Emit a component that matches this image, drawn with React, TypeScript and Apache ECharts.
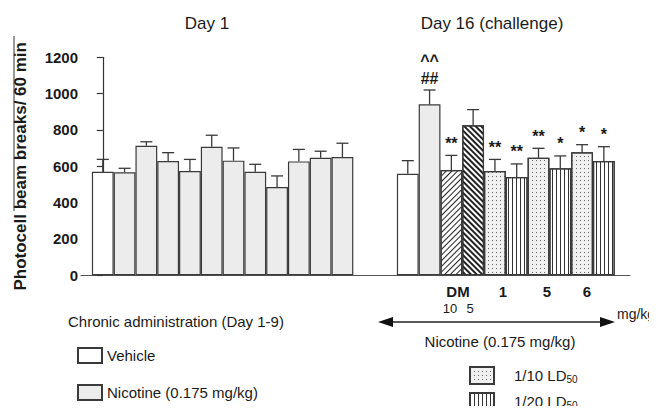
import React, { useEffect, useRef } from "react";
import * as echarts from "echarts";

// ---- data ----
const day1Groups = ["Vehicle", "Nicotine (0.175 mg/kg)", "Nicotine (0.175 mg/kg)", "Nicotine (0.175 mg/kg)", "Nicotine (0.175 mg/kg)", "Nicotine (0.175 mg/kg)", "Nicotine (0.175 mg/kg)", "Nicotine (0.175 mg/kg)", "Nicotine (0.175 mg/kg)", "Nicotine (0.175 mg/kg)", "Nicotine (0.175 mg/kg)", "Nicotine (0.175 mg/kg)"];
const day1Values = [570, 567, 713, 629, 574, 708, 631, 570, 486, 627, 647, 651];
const day1Errors = [68, 22, 22, 46, 64, 63, 70, 41, 61, 66, 36, 76];

const day16Groups = ["Vehicle", "Nicotine (0.175 mg/kg)", "DM 10", "DM 5", "1/10 LD50", "1/20 LD50", "1/10 LD50", "1/20 LD50", "1/10 LD50", "1/20 LD50"];
const day16Values = [559, 941, 580, 826, 574, 541, 647, 589, 677, 629];
const day16Errors = [72, 79, 80, 86, 64, 72, 52, 68, 42, 79];
const day16Marks = ["", "^^\n##", "**", "", "**", "**", "**", "*", "*", "*"];

const yTicks = { min: 0, max: 1200, interval: 200 };
const dayTitles = ["Day 1", "Day 16 (challenge)"];
const compoundLabels = ["DM", "1", "5", "6"];
const doseLabels = ["10", "5"];

const FONT = "'Liberation Sans', Arial, Helvetica, sans-serif";
const INK = "#1a1a1a";
const EDGE = "#3a3a3a";
const GAP_SLOTS = 2;

export default function App() {
  const ref = useRef<HTMLDivElement>(null);

  useEffect(() => {
    if (!ref.current) return;
    const chart = echarts.init(ref.current, undefined, { renderer: "svg" });

    type Pt = { x: number; y: number; e: number; g: string; m: string };
    const pts: Pt[] = [];
    day1Values.forEach((v, i) => pts.push({ x: i, y: v, e: day1Errors[i], g: day1Groups[i], m: "" }));
    day16Values.forEach((v, i) =>
      pts.push({ x: day1Values.length + GAP_SLOTS + i, y: v, e: day16Errors[i], g: day16Groups[i], m: day16Marks[i] })
    );

    const gridLeft = 81;
    const gridRight = 27;
    const xMin = -1;
    const xMax = 24.2;
    const slotPx = (657 - gridLeft - gridRight) / (xMax - xMin);

    const styles: Record<string, any> = {
      Vehicle: { color: "#ffffff" },
      "Nicotine (0.175 mg/kg)": { color: "#ececec" },
      "DM 10": {
        color: "#ffffff",
        decal: { symbol: "rect", symbolSize: 1, color: "#222", backgroundColor: "#fff", dashArrayX: [1, 0], dashArrayY: [1, 2.2], rotation: -Math.PI / 4 },
      },
      "DM 5": {
        color: "#ffffff",
        decal: { symbol: "rect", symbolSize: 1, color: "#222", backgroundColor: "#fff", dashArrayX: [1, 0], dashArrayY: [1.3, 1.8], rotation: Math.PI / 4 },
      },
      "1/10 LD50": {
        color: "#f0f0f0",
        decal: { symbol: "rect", symbolSize: 1, color: "#666", backgroundColor: "#f0f0f0", dashArrayX: [1, 3], dashArrayY: [1, 3], rotation: 0 },
      },
      "1/20 LD50": {
        color: "#ffffff",
        decal: { symbol: "rect", symbolSize: 1, color: "#333", backgroundColor: "#fff", dashArrayX: [1, 2.6], dashArrayY: [4, 0], rotation: 0 },
      },
    };

    const barSeries = Object.keys(styles).map((name) => ({
      type: "bar",
      name,
      barWidth: slotPx,
      barGap: "-100%",
      z: 2,
      data: pts.filter((p) => p.g === name).map((p) => [p.x, p.y]),
      itemStyle: { borderColor: EDGE, borderWidth: 1.2, ...styles[name] },
    }));

    const errorSeries = {
      type: "custom",
      name: "err",
      z: 3,
      data: pts.map((p) => [p.x, p.y, p.e]),
      renderItem: (_p: any, api: any) => {
        const x = api.value(0), y = api.value(1), e = api.value(2);
        const base = api.coord([x, y]);
        const top = api.coord([x, y + e]);
        const st = { stroke: EDGE, lineWidth: 1.3 };
        return {
          type: "group",
          children: [
            { type: "line", shape: { x1: base[0], y1: base[1], x2: base[0], y2: top[1] }, style: st },
            { type: "line", shape: { x1: base[0] - 6, y1: top[1], x2: base[0] + 6, y2: top[1] }, style: st },
          ],
        };
      },
    };

    const markPts = pts.filter((p) => p.m);
    const markSeries = {
      type: "custom",
      name: "marks",
      z: 4,
      data: markPts.map((p) => [p.x, p.y + p.e]),
      renderItem: (params: any, api: any) => {
        const c = api.coord([api.value(0), api.value(1)]);
        const txt = markPts[params.dataIndex].m;
        return {
          type: "text",
          x: c[0],
          y: c[1] - 3,
          style: { text: txt, align: "center", verticalAlign: "bottom", font: `bold 16px ${FONT}`, lineHeight: 18, fill: INK },
        };
      },
    };

    const txt = (text: string, x: number, y: number, size: number, bold = false, align = "center") => ({
      type: "text",
      x,
      y,
      style: {
        text,
        align,
        verticalAlign: "middle",
        fontFamily: FONT,
        fontSize: size,
        fontWeight: bold ? "bold" : "normal",
        fill: INK,
      },
    });

    const arrowY = 322;
    const graphic: any[] = [
      txt(dayTitles[0], 207, 23, 17),
      txt(dayTitles[1], 492, 23, 17),
      { type: "line", shape: { x1: 14, y1: 36, x2: 14, y2: 211 }, style: { stroke: "#333", lineWidth: 1 } },
      txt(compoundLabels[0], 458, 291, 15, true),
      txt(compoundLabels[1], 503, 291, 15, true),
      txt(compoundLabels[2], 547, 291, 15, true),
      txt(compoundLabels[3], 587, 291, 15, true),
      txt(doseLabels[0], 450, 308, 13),
      txt(doseLabels[1], 470, 308, 13),
      { type: "line", shape: { x1: 390, y1: arrowY, x2: 603, y2: arrowY }, style: { stroke: "#222", lineWidth: 1.3 } },
      { type: "polygon", shape: { points: [[378, arrowY], [393, arrowY - 5], [393, arrowY + 5]] }, style: { fill: "#111" } },
      { type: "polygon", shape: { points: [[615, arrowY], [600, arrowY - 5], [600, arrowY + 5]] }, style: { fill: "#111" } },
      txt("mg/kg", 617, 314, 14, false, "left"),
      txt("Nicotine (0.175 mg/kg)", 500, 341, 15),
      txt("Chronic administration (Day 1-9)", 68, 321, 15, false, "left"),
    ];

    const legendCommon = {
      orient: "vertical",
      padding: 0,
      icon: "rect",
      itemWidth: 24,
      selectedMode: false,
      textStyle: { fontFamily: FONT, fontSize: 15, color: INK },
    };

    chart.setOption({
      animation: false,
      backgroundColor: "#ffffff",
      grid: { left: gridLeft, right: gridRight, top: 57.3, bottom: 414 - 275.3, containLabel: false },
      xAxis: {
        type: "value",
        min: xMin,
        max: xMax,
        axisLine: { show: true, onZero: false, lineStyle: { color: "#555", width: 1.2 } },
        axisTick: { show: false },
        axisLabel: { show: false },
        splitLine: { show: false },
      },
      yAxis: {
        type: "value",
        ...yTicks,
        name: "Photocell beam breaks/ 60 min",
        nameLocation: "middle",
        nameGap: 52,
        nameTextStyle: { fontFamily: FONT, fontSize: 17, fontWeight: "bold", color: INK },
        axisLine: { show: true, lineStyle: { color: "#333", width: 1.2 } },
        axisTick: { show: true, length: 6, inside: false, lineStyle: { color: "#333", width: 1.2 } },
        axisLabel: { fontFamily: FONT, fontSize: 15, fontWeight: "bold", color: INK, margin: 3, formatter: (v: number) => String(v) },
        splitLine: { show: false },
      },
      legend: [
        { ...legendCommon, data: ["Vehicle", "Nicotine (0.175 mg/kg)"], left: 77, top: 347, height: 80, itemHeight: 15, itemGap: 20 },
        {
          ...legendCommon,
          data: ["1/10 LD50", "1/20 LD50"],
          left: 469,
          top: 366,
          height: 100,
          itemHeight: 17,
          itemGap: 7,
          formatter: (n: string) => n.replace("LD50", "LD{sub|50}"),
          textStyle: {
            fontFamily: FONT,
            fontSize: 15,
            color: INK,
            padding: [0, 0, 0, 15],
            rich: { sub: { fontFamily: FONT, fontSize: 10, color: INK, padding: [7, 0, 0, 0] } },
          },
        },
      ],
      graphic,
      series: [...barSeries, errorSeries, markSeries],
    });

    return () => chart.dispose();
  }, []);

  return <div ref={ref} style={{ width: 657, height: 414, margin: -8 }} />;
}
